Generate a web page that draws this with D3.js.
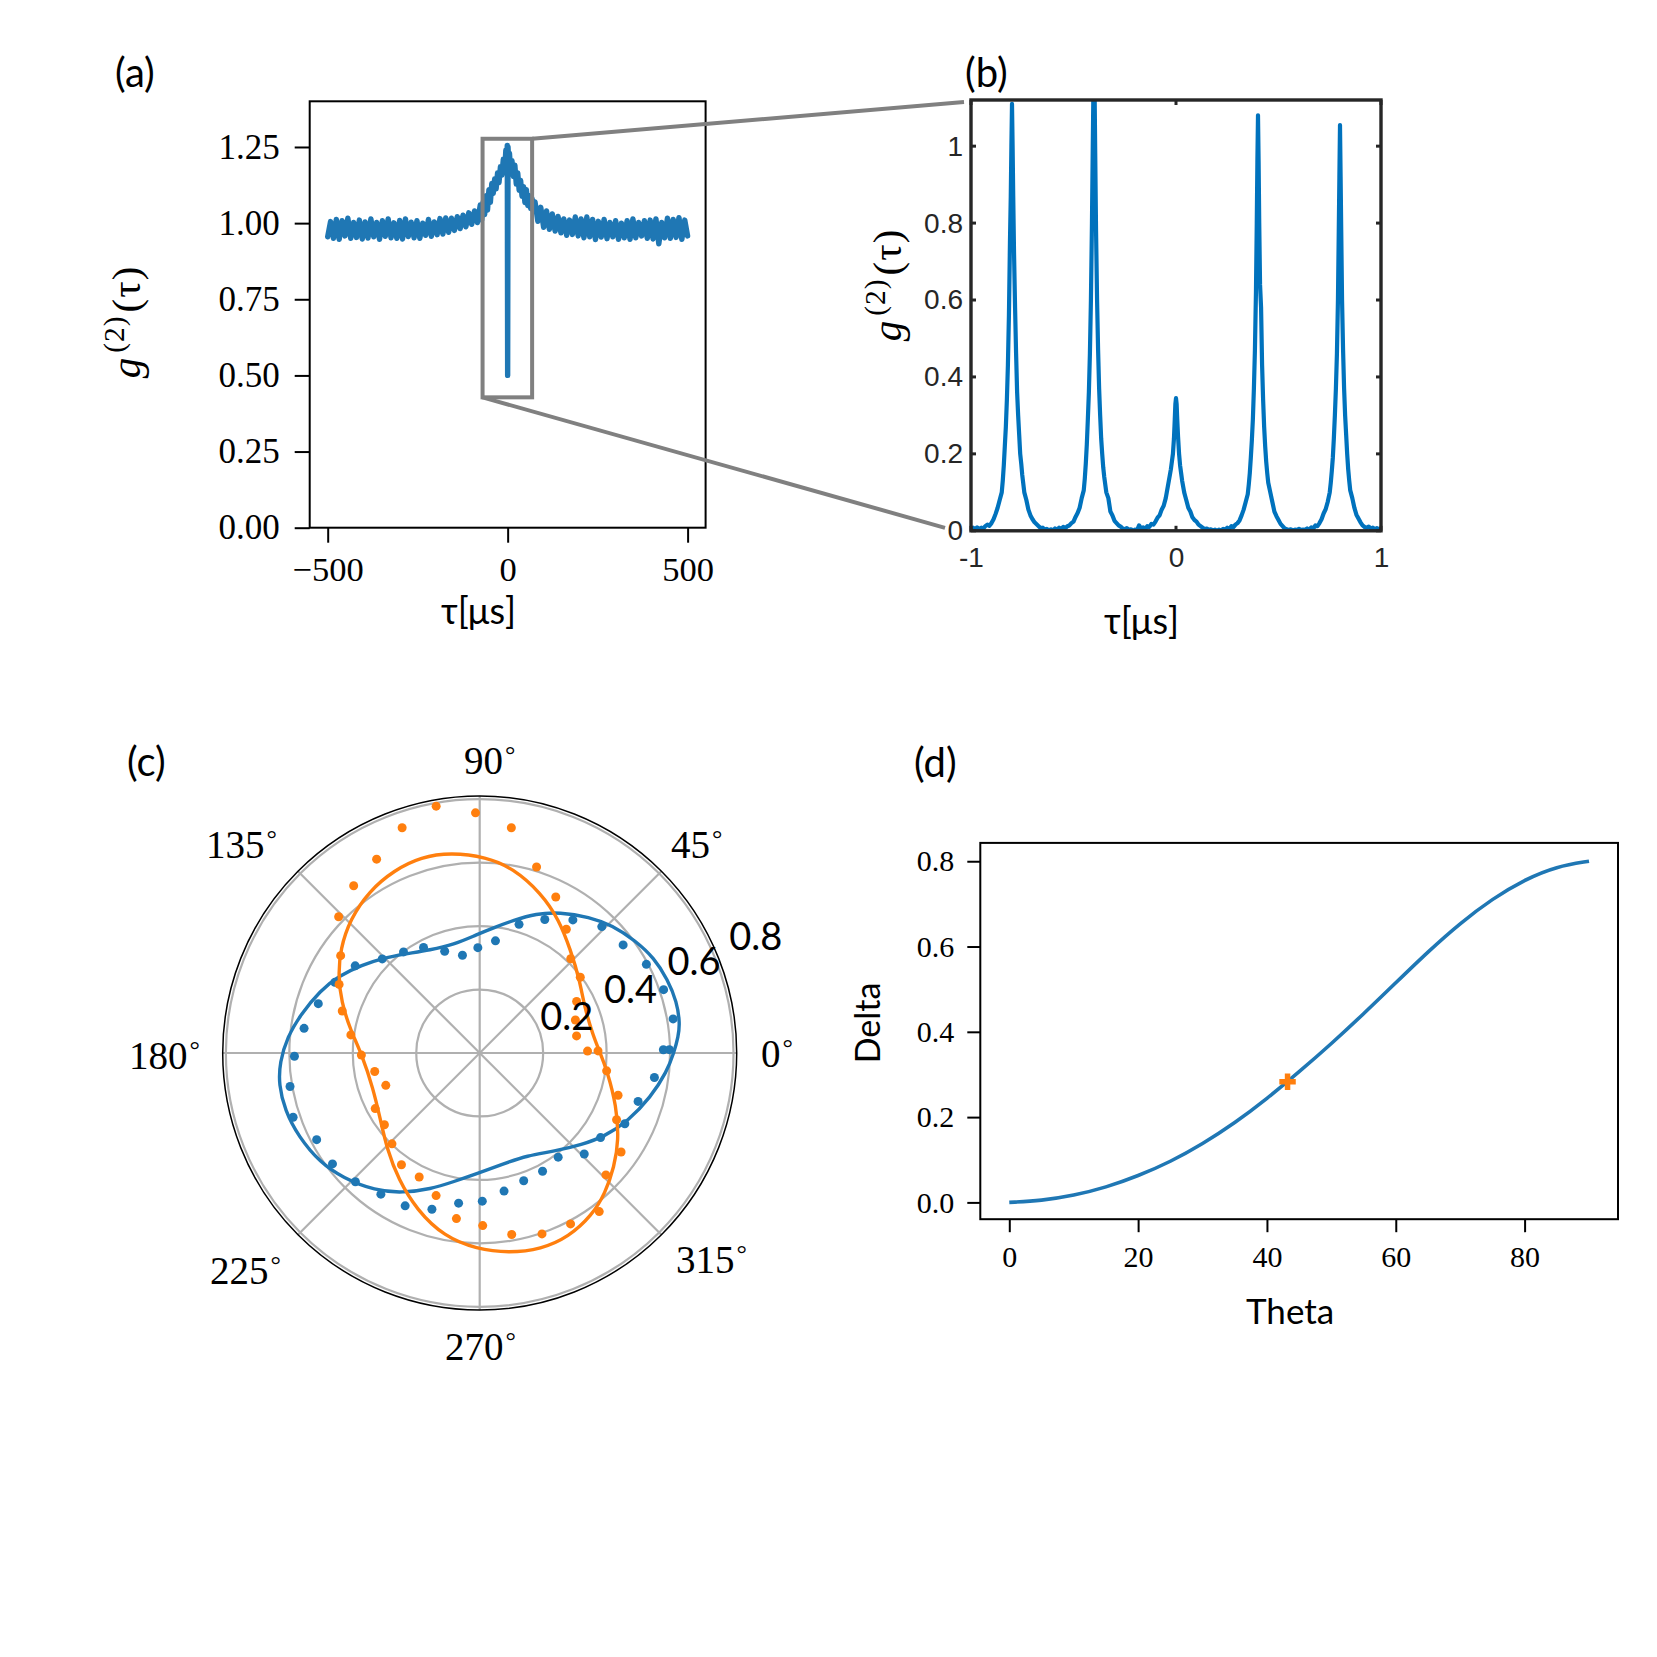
<!DOCTYPE html>
<html>
<head>
<meta charset="utf-8">
<script src="https://cdn.jsdelivr.net/npm/d3@7"></script>
<style>
  body { margin: 0; background: #fff; }
  text { fill: #000; }
  .serif { font-family: "Liberation Serif", serif; }
  .label { font-family: Lato, "Noto Sans", sans-serif; }
</style>
</head>
<body>
<svg id="chart" width="1657" height="1657"></svg>
<script>
var blue = "#1f77b4", orange = "#ff7f0e", matlabBlue = "#0072bd", matlabDark = "#262626", grey = "#808080";

// panel (a): g2 over the long delay range
var aTau = [-500,-492,-484,-476,-468,-460,-452,-444,-436,-428,-420,-412,-404,-396,-388,-380,-372,-364,-356,-348,-340,-332,-324,-316,-308,-300,-292,-284,-276,-268,-260,-252,-244,-236,-228,-220,-212,-204,-196,-188,-180,-172,-164,-156,-148,-140,-132,-124,-116,-108,-100,-92,-84,-76,-72,-68,-64,-60,-56,-52,-48,-44,-40,-36,-32,-28,-24,-20,-16,-12,-8,-5,-3,-1,0,1,3,5,8,12,16,20,24,28,32,36,40,44,48,52,56,60,64,68,72,76,84,92,100,108,116,124,132,140,148,156,164,172,180,188,196,204,212,220,228,236,244,252,260,268,276,284,292,300,308,316,324,332,340,348,356,364,372,380,388,396,404,412,420,428,436,444,452,460,468,476,484,492,500];
var aG2 = [.955,1.005,.95,1.012,.947,1.008,.958,1.016,.95,1.002,.953,1.01,.948,1.004,.951,1.014,.955,1.002,.947,1.008,.957,1.014,.952,1.001,.95,1.009,.948,1.014,.956,1.003,.952,1.008,.95,1.0,.96,1.012,.957,1.004,.962,1.015,.964,1.017,.97,1.016,.976,1.021,.982,1.026,.988,1.034,.996,1.04,1.002,1.06,1.01,1.07,1.028,1.09,1.043,1.11,1.068,1.13,1.098,1.145,1.113,1.165,1.133,1.185,1.158,1.21,1.178,1.24,1.198,1.255,.5,1.25,1.198,1.23,1.178,1.205,1.153,1.19,1.128,1.165,1.108,1.14,1.088,1.12,1.068,1.11,1.058,1.09,1.048,1.08,1.038,1.07,1.006,1.052,.986,1.04,.98,1.03,.974,1.022,.968,1.014,.96,1.01,.963,1.02,.958,1.014,.952,1.02,.955,1.012,.946,1.006,.954,1.012,.949,1.002,.955,1.008,.947,1.0,.952,1.008,.947,1.014,.952,1.002,.958,1.008,.95,1.01,.948,1.014,.932,1.002,.952,1.016,.95,1.012,.953,1.018,.947,1.01,.958];
var aXTicks = [-500, 0, 500];
var aYTicks = [0, .25, .5, .75, 1, 1.25];
var zoomBox = {tau: [-69.7, 68], g2: [.428, 1.277]};

// panel (b): zoom around zero delay, one row per peak
var bTau = [
  -1,-.99,-.98,-.97,-.96,-.95,-.94,-.93,-.92,-.91,-.9,-.89,-.88,-.87,-.86,-.85,-.845,-.84,-.835,-.83,-.825,-.82,-.815,-.81,-.806,-.803,-.8,-.797,-.794,-.79,-.785,-.78,-.775,-.77,-.765,-.76,-.755,-.75,-.74,-.73,-.72,-.71,-.7,-.69,-.68,-.67,-.66,-.65,-.64,-.63,-.62,-.61,
  -.6,-.59,-.58,-.57,-.56,-.55,-.54,-.53,-.52,-.51,-.5,-.49,-.48,-.47,-.46,-.45,-.445,-.44,-.435,-.43,-.425,-.42,-.415,-.41,-.406,-.403,-.4,-.397,-.394,-.39,-.385,-.38,-.375,-.37,-.365,-.36,-.355,-.35,-.34,-.33,-.32,-.31,-.3,-.29,-.28,-.27,-.26,-.25,-.24,-.23,-.22,-.21,
  -.2,-.19,-.18,-.17,-.16,-.15,-.14,-.13,-.12,-.11,-.1,-.09,-.08,-.07,-.06,-.05,-.045,-.04,-.035,-.03,-.025,-.02,-.015,-.01,-.006,-.003,0,.003,.006,.01,.015,.02,.025,.03,.035,.04,.045,.05,.06,.07,.08,.09,.1,.11,.12,.13,.14,.15,.16,.17,.18,.19,
  .2,.21,.22,.23,.24,.25,.26,.27,.28,.29,.3,.31,.32,.33,.34,.35,.355,.36,.365,.37,.375,.38,.385,.39,.394,.397,.4,.403,.406,.41,.415,.42,.425,.43,.435,.44,.445,.45,.46,.47,.48,.49,.5,.51,.52,.53,.54,.55,.56,.57,.58,.59,
  .6,.61,.62,.63,.64,.65,.66,.67,.68,.69,.7,.71,.72,.73,.74,.75,.755,.76,.765,.77,.775,.78,.785,.79,.794,.797,.8,.803,.806,.81,.815,.82,.825,.83,.835,.84,.845,.85,.86,.87,.88,.89,.9,.91,.92,.93,.94,.95,.96,.97,.98,.99,1
];
var bG2 = [
  .005,.008,.004,.009,.005,.008,.006,.012,.016,.013,.02,.03,.044,.06,.08,.1,.13,.17,.22,.27,.34,.43,.56,.75,.87,1.0,1.11,1.0,.87,.72,.58,.46,.36,.3,.25,.2,.175,.145,.1,.08,.055,.04,.03,.022,.017,.012,.007,.008,.003,.005,.001,.004,
  0,.006,.002,.008,.004,.01,.007,.012,.014,.02,.024,.036,.046,.06,.085,.105,.135,.175,.225,.29,.36,.46,.6,.8,1.0,1.14,1.22,1.14,.98,.78,.6,.47,.37,.3,.24,.2,.165,.14,.1,.085,.05,.04,.026,.02,.014,.011,.006,.004,.007,.002,.004,0,
  .003,.001,.014,.006,.009,.004,.012,.01,.018,.016,.024,.034,.04,.055,.065,.085,.1,.115,.13,.145,.16,.18,.2,.24,.29,.33,.345,.33,.29,.245,.2,.17,.15,.13,.115,.1,.09,.08,.06,.05,.035,.028,.024,.016,.012,.008,.004,.006,.002,.004,.001,.003,
  0,.003,.001,.005,.003,.008,.005,.012,.009,.016,.02,.027,.04,.055,.075,.095,.12,.15,.19,.235,.29,.37,.47,.62,.8,.96,1.08,.96,.8,.64,.58,.43,.34,.27,.22,.18,.15,.125,.1,.075,.05,.038,.028,.018,.012,.006,.004,.002,.004,.001,.003,.002,
  .005,.002,.003,.002,.006,.003,.009,.006,.014,.012,.02,.03,.045,.056,.075,.1,.125,.155,.19,.24,.3,.37,.46,.6,.78,.92,1.055,.92,.78,.6,.47,.37,.3,.25,.2,.16,.13,.105,.085,.06,.042,.032,.022,.014,.01,.008,.011,.006,.008,.004,.007,.004,.002
];
var bXTicks = [-1, 0, 1];
var bYTicks = [0, .2, .4, .6, .8, 1];

// panel (c): polarisation, dots are measured, lines are fits. angles in degrees
var dotTheta = [1,10,19,28,37,46,55,64,73,82,91,100,109,118,127,136,145,154,163,172,181,190,199,208,217,226,235,244,253,262,271,280,289,298,307,316,325,334,343,352,361];
var blueDots = [.598,.619,.613,.595,.566,.554,.512,.468,.424,.357,.332,.313,.339,.377,.399,.427,.479,.508,.532,.559,.584,.607,.622,.582,.581,.564,.543,.536,.515,.478,.467,.442,.426,.422,.411,.458,.465,.509,.522,.556,.579];
var orangeDots = [.34,.31,.319,.346,.397,.413,.476,.547,.613,.717,.757,.79,.751,.692,.66,.618,.535,.493,.453,.41,.373,.336,.313,.373,.376,.398,.43,.435,.47,.527,.544,.581,.603,.61,.626,.553,.544,.48,.456,.404,.373];
var blueFitTheta = [0,4.7,8.4,14.6,21.3,28.6,35.8,43.9,51.1,60.5,67.9,75.8,83.1,91.5,103.6,115.4,127.8,134.9,143.3,151.3,158.7,167.9,175.1,182.7,188.9,196.4,204.8,214.5,222.4,232.8,241.2,250.2,258.5,269.6,282.4,294.7,307.2,318.1,326.4,335.3,345.5,354.4];
var blueFitR = [.612,.628,.638,.642,.636,.626,.605,.58,.551,.51,.474,.431,.399,.373,.351,.36,.394,.424,.464,.506,.54,.577,.608,.631,.641,.64,.629,.61,.584,.545,.503,.456,.414,.378,.357,.356,.389,.433,.474,.514,.557,.593];
var orangeFitTheta = [0,8.2,24.1,36.1,48.6,59.3,69,79.8,88.2,98.1,106.6,115.1,124.3,134.1,143.3,151.3,159.7,169.9,180.4,198.5,213.5,226.1,237.3,248.2,259,269.1,278.3,287.4,295.8,304.7,311.9,319.8,327.8,338.9,351.9];
var orangeFitR = [.38,.362,.361,.39,.433,.489,.54,.592,.618,.638,.645,.636,.618,.587,.548,.508,.465,.414,.372,.354,.376,.421,.474,.533,.589,.618,.637,.648,.644,.622,.593,.555,.518,.462,.406];
var rTicks = [.2, .4, .6, .8];
var spokes = [0, 45, 90, 135];
var angleLabels = ["0", "45", "90", "135", "180", "225", "270", "315"];

// panel (d)
var dTheta = [0,5,10,15,20,25,30,35,40,45,50,55,60,65,70,75,80,85,90];
var dDelta = [0,.004,.016,.035,.062,.095,.137,.186,.243,.306,.372,.442,.515,.588,.655,.712,.757,.788,.8];
var dMark = {theta: 43.2, delta: .283};
var dXTicks = [0, 20, 40, 60, 80];
var dYTicks = [0, .2, .4, .6, .8];

var svg = d3.select("#chart");

function styleAxis(g, size, family, color, width) {
  g.select(".domain").remove();
  g.selectAll("line").attr("stroke", color).attr("stroke-width", width);
  g.selectAll("text").attr("font-family", family).attr("font-size", size).style("fill", color);
}

function addText(str, x, y, cls, size, rotate) {
  var t = svg.append("text").attr("class", cls).attr("font-size", size).text(str);
  if (rotate) t.attr("transform", "translate(" + x + "," + y + ") rotate(-90)").attr("text-anchor", "middle");
  else t.attr("x", x).attr("y", y);
  return t;
}

function g2Label(x, y, size) {
  var t = svg.append("text").attr("class", "serif").attr("font-size", size)
    .attr("text-anchor", "middle").attr("letter-spacing", 1)
    .attr("transform", "translate(" + x + "," + y + ") rotate(-90)");
  t.append("tspan").attr("font-style", "italic").text("g");
  t.append("tspan").attr("dy", -size * .38).attr("dx", 4).attr("font-size", size * .72).text("(2)");
  t.append("tspan").attr("dy", size * .38).attr("dx", 3).text("(τ)");
}

// ---- (a)
var ax = d3.scaleLinear().domain([-550, 550]).range([309.7, 705.6]);
var ay = d3.scaleLinear().domain([0, 1.4]).range([527.7, 101.3]);

svg.append("path")
  .attr("d", d3.line().x(function(d) { return ax(d); }).y(function(d, i) { return ay(aG2[i]); })(aTau))
  .attr("fill", "none").attr("stroke", blue).attr("stroke-width", 5.4).attr("stroke-linejoin", "round").attr("stroke-linecap", "round");

svg.append("g").attr("transform", "translate(0,527.7)")
  .call(d3.axisBottom(ax).tickValues(aXTicks).tickSize(15).tickPadding(14).tickFormat(function(d) { return d < 0 ? "−" + (-d) : d; }))
  .call(styleAxis, 34.5, "Liberation Serif", "#000", 2);
svg.append("g").attr("transform", "translate(309.7,0)")
  .call(d3.axisLeft(ay).tickValues(aYTicks).tickSize(15).tickPadding(15).tickFormat(d3.format(".2f")))
  .call(styleAxis, 35, "Liberation Serif", "#000", 2);
svg.append("rect").attr("x", ax(-550)).attr("y", ay(1.4)).attr("width", ax(550) - ax(-550)).attr("height", ay(0) - ay(1.4))
  .attr("fill", "none").attr("stroke", "#000").attr("stroke-width", 2);

addText("(a)", 115, 87, "label", 40);
addText("τ[μs]", 441, 624, "label", 36);
g2Label(140, 322, 41);

// ---- (b)
var bx = d3.scaleLinear().domain([-1, 1]).range([971, 1381]);
var by = d3.scaleLinear().domain([0, 1.12]).range([530.8, 100]);

svg.append("clipPath").attr("id", "bclip").append("rect")
  .attr("x", bx(-1)).attr("y", by(1.12)).attr("width", bx(1) - bx(-1)).attr("height", by(0) - by(1.12));
svg.append("path")
  .attr("clip-path", "url(#bclip)")
  .attr("d", d3.line().x(function(d) { return bx(d); }).y(function(d, i) { return by(bG2[i]); })(bTau))
  .attr("fill", "none").attr("stroke", matlabBlue).attr("stroke-width", 4.2).attr("stroke-linejoin", "round");

svg.append("g").attr("transform", "translate(0,530.8)")
  .call(d3.axisBottom(bx).tickValues(bXTicks).tickSize(0).tickPadding(16).tickFormat(String))
  .call(styleAxis, 28, "Liberation Sans", matlabDark, 3);
svg.append("g").attr("transform", "translate(971,0)")
  .call(d3.axisLeft(by).tickValues(bYTicks).tickSize(0).tickPadding(8).tickFormat(String))
  .call(styleAxis, 28, "Liberation Sans", matlabDark, 3);

// inward ticks on all four sides
var bTicks = svg.append("g").attr("stroke", matlabDark).attr("stroke-width", 3);
bYTicks.forEach(function(v) {
  bTicks.append("line").attr("x1", bx(-1)).attr("x2", bx(-1) + 5).attr("y1", by(v)).attr("y2", by(v));
  bTicks.append("line").attr("x1", bx(1)).attr("x2", bx(1) - 5).attr("y1", by(v)).attr("y2", by(v));
});
bXTicks.forEach(function(v) {
  bTicks.append("line").attr("x1", bx(v)).attr("x2", bx(v)).attr("y1", by(0)).attr("y2", by(0) - 5);
  bTicks.append("line").attr("x1", bx(v)).attr("x2", bx(v)).attr("y1", by(1.12)).attr("y2", by(1.12) + 5);
});
svg.append("rect").attr("x", bx(-1)).attr("y", by(1.12)).attr("width", bx(1) - bx(-1)).attr("height", by(0) - by(1.12))
  .attr("fill", "none").attr("stroke", matlabDark).attr("stroke-width", 3.4);

addText("(b)", 965, 87, "label", 40);
addText("τ[μs]", 1104, 634, "label", 36);
g2Label(901, 285, 41);

// zoom box and the lines that lead to panel (b)
svg.append("rect")
  .attr("x", ax(zoomBox.tau[0])).attr("y", ay(zoomBox.g2[1]))
  .attr("width", ax(zoomBox.tau[1]) - ax(zoomBox.tau[0])).attr("height", ay(zoomBox.g2[0]) - ay(zoomBox.g2[1]))
  .attr("fill", "none").attr("stroke", grey).attr("stroke-width", 4);
svg.append("line").attr("x1", ax(zoomBox.tau[1])).attr("y1", ay(zoomBox.g2[1])).attr("x2", bx(-1) - 7).attr("y2", by(1.12) + 2)
  .attr("stroke", grey).attr("stroke-width", 4);
svg.append("line").attr("x1", ax(zoomBox.tau[0])).attr("y1", ay(zoomBox.g2[0])).attr("x2", bx(-1) - 26).attr("y2", by(0) - 3)
  .attr("stroke", grey).attr("stroke-width", 4);

// ---- (c)
var cx = 479.7, cy = 1053, outer = 257;
var rad = d3.scaleLinear().domain([0, .81]).range([0, outer]);
var ang = d3.scaleLinear().domain([0, 360]).range([Math.PI / 2, Math.PI / 2 - 2 * Math.PI]);
var polar = svg.append("g").attr("transform", "translate(" + cx + "," + cy + ")");

polar.selectAll(".ring").data(rTicks).enter().append("circle").attr("class", "ring")
  .attr("r", function(d) { return rad(d); })
  .attr("fill", "none").attr("stroke", "#b0b0b0").attr("stroke-width", 2.2);
polar.selectAll(".spoke").data(spokes).enter().append("line").attr("class", "spoke")
  .attr("x1", function(d) { return rad(.81) * Math.cos(d * Math.PI / 180); })
  .attr("y1", function(d) { return -rad(.81) * Math.sin(d * Math.PI / 180); })
  .attr("x2", function(d) { return -rad(.81) * Math.cos(d * Math.PI / 180); })
  .attr("y2", function(d) { return rad(.81) * Math.sin(d * Math.PI / 180); })
  .attr("stroke", "#b0b0b0").attr("stroke-width", 2.2);
polar.append("circle").attr("r", outer).attr("fill", "none").attr("stroke", "#000").attr("stroke-width", 1.5);

function fitLine(thetas, rs, color) {
  var line = d3.lineRadial()
    .angle(function(d) { return ang(d); })
    .radius(function(d, i) { return rad(rs[i]); })
    .curve(d3.curveBasisClosed);
  polar.append("path").attr("d", line(thetas)).attr("fill", "none").attr("stroke", color).attr("stroke-width", 3.4);
}
function dots(rs, color) {
  polar.append("g").selectAll("circle").data(rs).enter().append("circle")
    .attr("r", 4.5).attr("fill", color)
    .attr("cx", function(d, i) { return rad(d) * Math.cos(dotTheta[i] * Math.PI / 180); })
    .attr("cy", function(d, i) { return -rad(d) * Math.sin(dotTheta[i] * Math.PI / 180); });
}
dots(blueDots, blue);
fitLine(blueFitTheta, blueFitR, blue);
dots(orangeDots, orange);
fitLine(orangeFitTheta, orangeFitR, orange);

// radial tick labels sit along 22.5 degrees, pushed out a bit
var rLabelShift = [[2, 1], [7, -1], [12, -5], [15, -6]];
rTicks.forEach(function(v, i) {
  addText(v, cx + rad(v) * Math.cos(Math.PI / 8) + rLabelShift[i][0], cy - rad(v) * Math.sin(Math.PI / 8) + rLabelShift[i][1], "label", 38);
});

var anglePos = [[761, 1067], [671, 858], [464, 774], [206, 858], [129, 1069], [210, 1284], [445, 1360], [676, 1273]];
angleLabels.forEach(function(s, i) {
  var t = addText(s, anglePos[i][0], anglePos[i][1], "serif", 39);
  t.append("tspan").attr("font-size", 26).attr("dy", -11).attr("dx", 2).text("°");
});
addText("(c)", 127, 776, "label", 40);

// ---- (d)
var dx = d3.scaleLinear().domain([-4.5, 94.5]).range([980.3, 1618]);
var dy = d3.scaleLinear().domain([-.0394, .843]).range([1219.2, 842.9]);

svg.append("path")
  .attr("d", d3.line().x(function(d) { return dx(d); }).y(function(d, i) { return dy(dDelta[i]); }).curve(d3.curveBasis)(dTheta))
  .attr("fill", "none").attr("stroke", blue).attr("stroke-width", 3.6);
svg.append("path")
  .attr("d", d3.symbol().type(d3.symbolCross).size(150)())
  .attr("transform", "translate(" + dx(dMark.theta) + "," + dy(dMark.delta) + ")")
  .attr("fill", orange);

svg.append("g").attr("transform", "translate(0,1219.2)")
  .call(d3.axisBottom(dx).tickValues(dXTicks).tickSize(13).tickPadding(14))
  .call(styleAxis, 30, "Liberation Serif", "#000", 2);
svg.append("g").attr("transform", "translate(980.3,0)")
  .call(d3.axisLeft(dy).tickValues(dYTicks).tickSize(13).tickPadding(13).tickFormat(d3.format(".1f")))
  .call(styleAxis, 30, "Liberation Serif", "#000", 2);
svg.append("rect").attr("x", dx(-4.5)).attr("y", dy(.843)).attr("width", dx(94.5) - dx(-4.5)).attr("height", dy(-.0394) - dy(.843))
  .attr("fill", "none").attr("stroke", "#000").attr("stroke-width", 2);

addText("(d)", 914, 777, "label", 40);
addText("Theta", 1246, 1324, "label", 35);
addText("Delta", 880, 1023, "label", 34, true);
</script>
</body>
</html>
